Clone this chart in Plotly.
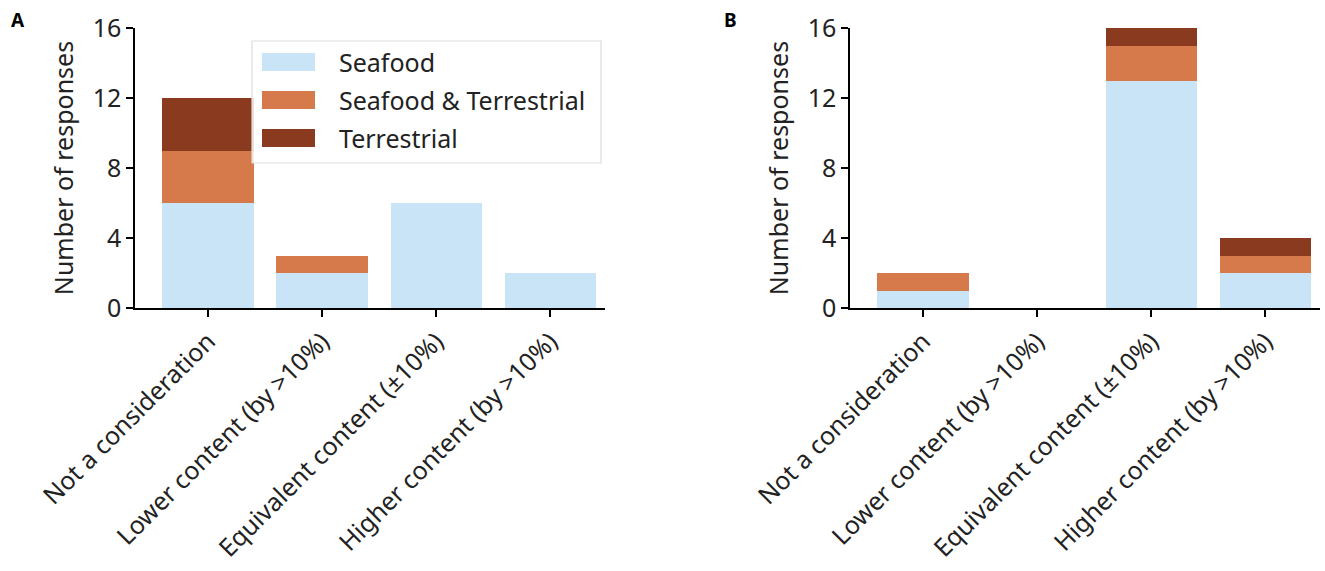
import plotly.graph_objects as go

categories = ["Not a consideration", "Lower content (by >10%)", "Equivalent content (±10%)", "Higher content (by >10%)"]
series_names = ["Seafood", "Seafood & Terrestrial", "Terrestrial"]
colors = ["#c9e4f7", "#d6794b", "#8a3a1f"]

a_seafood = [6, 2, 6, 2]
a_both = [3, 1, 0, 0]
a_terr = [3, 0, 0, 0]

b_seafood = [1, 0, 13, 2]
b_both = [1, 0, 2, 1]
b_terr = [0, 0, 1, 1]

yticks = [0, 4, 8, 12, 16]

W, H = 1325, 571
FONT = "Noto Sans"

fig = go.Figure()
for vals, name, col in zip([a_seafood, a_both, a_terr], series_names, colors):
    fig.add_trace(go.Bar(x=categories, y=vals, name=name, marker_color=col,
                         marker_line_width=0, width=0.8, xaxis="x", yaxis="y",
                         showlegend=False))
for vals, name, col in zip([b_seafood, b_both, b_terr], series_names, colors):
    fig.add_trace(go.Bar(x=categories, y=vals, name=name, marker_color=col,
                         marker_line_width=0, width=0.8, xaxis="x2", yaxis="y2",
                         showlegend=False))

def px_x(p):
    return p / W

def px_y(p):
    return 1 - p / H

axis_common = dict(showline=True, linecolor="black", linewidth=1.5, ticks="outside",
                   ticklen=7, tickwidth=1.5, tickcolor="black", showgrid=False, zeroline=False,
                   mirror=False, automargin=False)
xcommon = dict(axis_common, tickangle=-45, tickfont=dict(size=25, family=FONT, color="#222"),
               range=[-0.64, 3.48], type="category")
ycommon = dict(axis_common, range=[0, 16], tickvals=yticks, tickfont=dict(size=25, family=FONT, color="#222"),
               title=dict(text="Number of responses", font=dict(size=25, family=FONT, color="#222"), standoff=12))

fig.update_layout(
    width=W, height=H, margin=dict(l=0, r=0, t=0, b=0),
    plot_bgcolor="white", paper_bgcolor="white", barmode="stack",
    xaxis=dict(xcommon, domain=[px_x(135), px_x(605)], anchor="y"),
    yaxis=dict(ycommon, domain=[px_y(308), px_y(28)], anchor="x"),
    xaxis2=dict(xcommon, domain=[px_x(850), px_x(1320)], anchor="y2"),
    yaxis2=dict(ycommon, domain=[px_y(308), px_y(28)], anchor="x2"),
    font=dict(family=FONT),
)

# panel letters
fig.add_annotation(x=px_x(9), y=px_y(20), xref="paper", yref="paper", text="<b>A</b>",
                   showarrow=False, xanchor="left", yanchor="middle", font=dict(size=19, family=FONT, color="black"))
fig.add_annotation(x=px_x(722), y=px_y(20), xref="paper", yref="paper", text="<b>B</b>",
                   showarrow=False, xanchor="left", yanchor="middle", font=dict(size=19, family=FONT, color="black"))

# custom legend
fig.add_shape(type="rect", xref="paper", yref="paper", x0=px_x(252), x1=px_x(601),
              y0=px_y(163), y1=px_y(41), line=dict(color="#dddddd", width=1.2),
              fillcolor="rgba(255,255,255,0.85)", layer="above")
row_centers = [62, 100, 138]
for name, col, cy in zip(series_names, colors, row_centers):
    fig.add_shape(type="rect", xref="paper", yref="paper", x0=px_x(262), x1=px_x(315),
                  y0=px_y(cy + 9), y1=px_y(cy - 9), line=dict(width=0), fillcolor=col, layer="above")
    fig.add_annotation(x=px_x(337), y=px_y(cy), xref="paper", yref="paper", text=name,
                       showarrow=False, xanchor="left", yanchor="middle",
                       font=dict(size=25, family=FONT, color="#222"))

fig.write_html("out.html")
